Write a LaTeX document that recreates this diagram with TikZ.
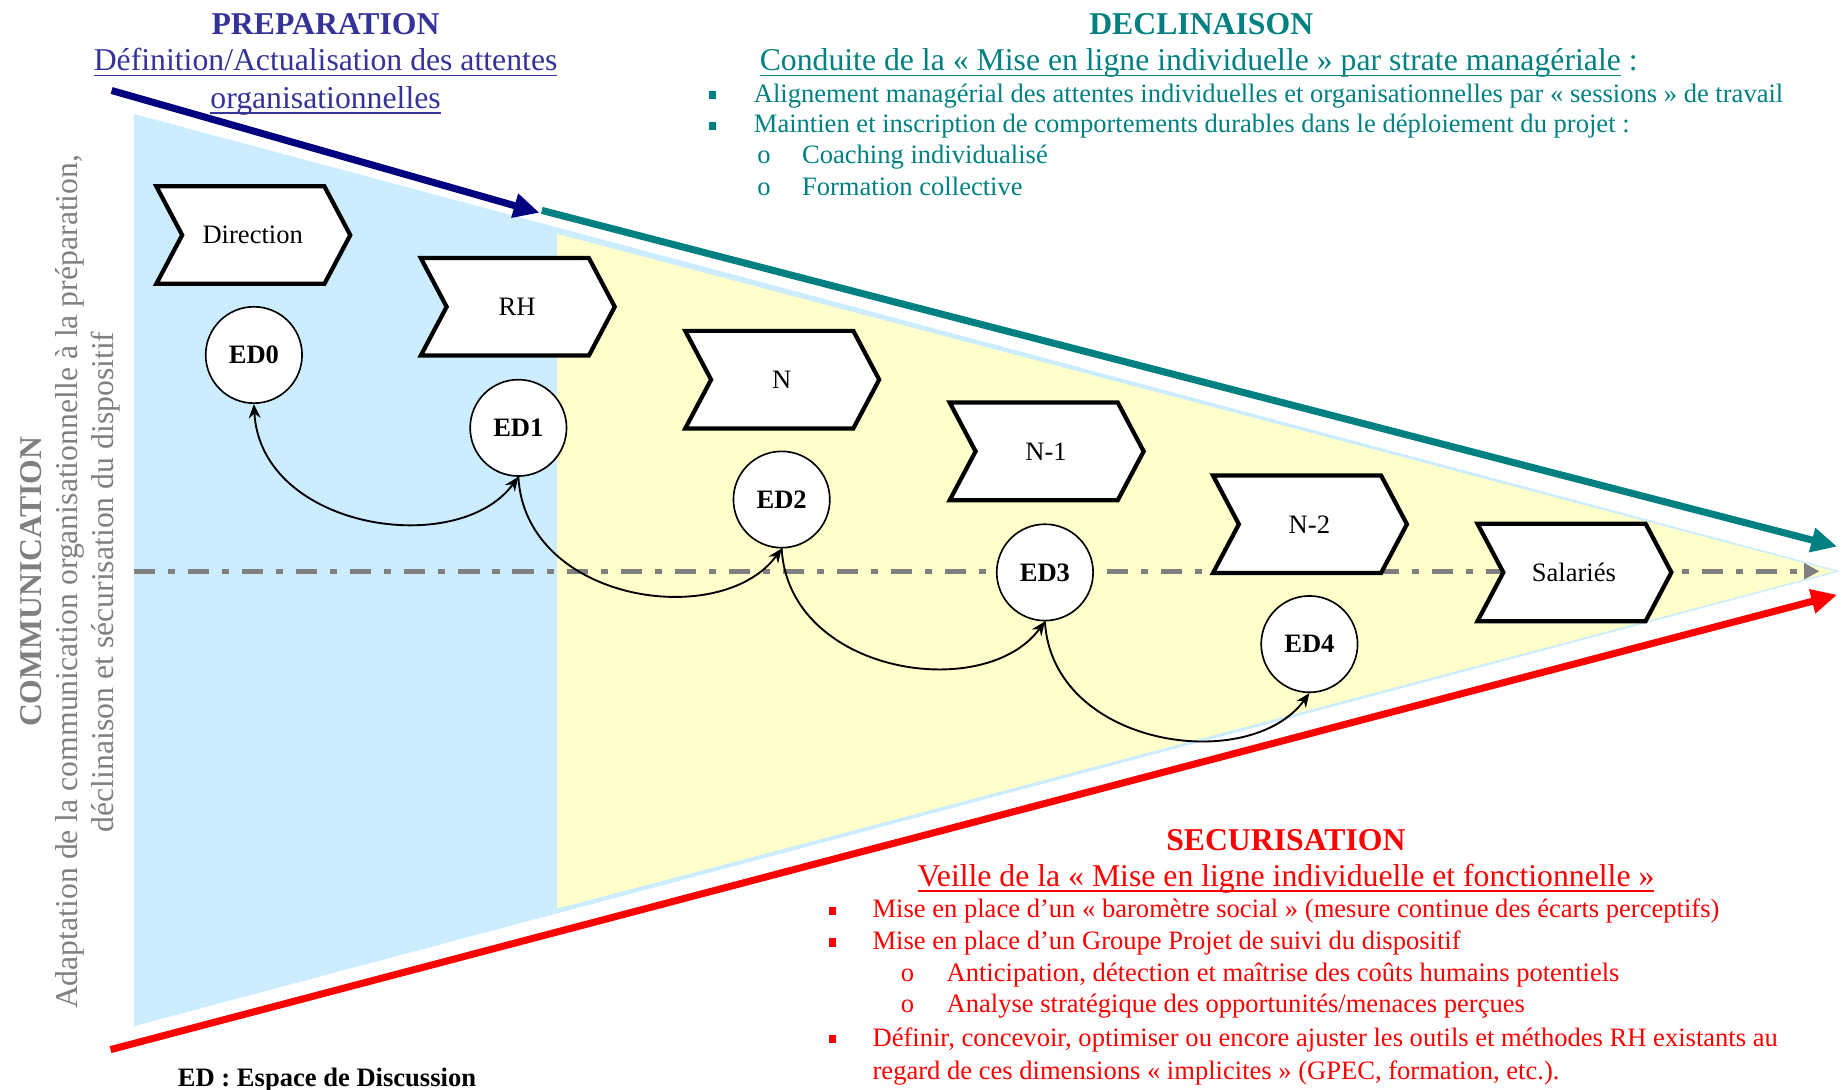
\documentclass[tikz,border=0pt]{standalone}
\usepackage{fontspec}
\setmainfont{Liberation Serif}
\usetikzlibrary{arrows.meta}
\definecolor{prepblue}{RGB}{51,51,153}
\definecolor{navyarrow}{RGB}{0,0,128}
\definecolor{tealc}{RGB}{0,128,128}
\definecolor{redc}{RGB}{255,0,0}
\definecolor{lightblue}{RGB}{204,236,255}
\definecolor{lightyellow}{RGB}{255,255,204}
\definecolor{grayc}{RGB}{128,128,128}
\newcommand{\sqbul}{\raisebox{1.3pt}{\rule{3pt}{3.5pt}}}
\newcommand{\headsize}{\fontsize{13.5}{15.3}\selectfont}
\newcommand{\bodysize}{\fontsize{11.3}{13.5}\selectfont}
\newcommand{\uln}[1]{\setbox0\hbox{#1}\rlap{\rule[-2.4pt]{\wd0}{0.6pt}}\box0\relax}
\newcommand{\chevron}[3]{%
  \draw[chevline, shift={(#2)}] (-82,-41.5) -- (61,-41.5) -- (83,0) -- (61,41.5) -- (-82,41.5) -- (-60,0) -- cycle;
  \node[chevtext] (#1) at (#2) {#3};}
\begin{document}
\begin{tikzpicture}[x=0.5pt,y=-0.5pt,
  chevline/.style={draw=black, fill=white, line width=1.8pt, line join=miter},
  chevtext/.style={font=\bodysize, inner sep=0pt},
  edcircle/.style={circle, draw=black, fill=white, line width=0.7pt, minimum size=41pt, inner sep=0pt, font=\bodysize\bfseries},
  curvearrow/.style={draw=black, line width=0.8pt, -{Stealth[length=6pt,width=5pt]}},
  bigarrow/.style={line width=3pt, -{Triangle[length=11pt,width=10pt]}},
  txt/.style={inner sep=0pt, anchor=base west, font=\bodysize},
  ctxt/.style={inner sep=0pt, anchor=base, font=\headsize},
]
\useasboundingbox (0,0) rectangle (1568,927);

% background areas
\fill[lightblue] (114,97) -- (1566,486) -- (114,873) -- cycle;
\fill[lightyellow] (474,199) -- (1561,486) -- (474,773) -- cycle;

% free ends of the long arrows
\coordinate (navyS) at (95,77);
\coordinate (navyE) at (459,181);
\coordinate (tealS) at (461,179);
\coordinate (tealE) at (1563,465);
\coordinate (redS) at (94,893);
\coordinate (redE) at (1563,506);
\coordinate (grayS) at (114,486);
\coordinate (grayE) at (1548,486);

% axis line
\draw[grayc, line width=2pt, dash pattern=on 9pt off 5.5pt on 3pt off 5.5pt, -{Triangle[length=6.5pt,width=6.5pt]}] (grayS) -- (grayE);

% big arrows
\draw[bigarrow, navyarrow] (navyS) -- (navyE);
\draw[bigarrow, tealc] (tealS) -- (tealE);
\draw[bigarrow, redc] (redS) -- (redE);

% chevrons
\chevron{dir}{215,200}{Direction}
\chevron{rh}{440,261}{RH}
\chevron{n}{665,323}{N}
\chevron{n1}{890,384}{N-1}
\chevron{n2}{1114,446}{N-2}
\chevron{sal}{1339,487}{Salariés}

% discussion spaces
\node[edcircle] (ED0) at (216,302) {ED0};
\node[edcircle] (ED1) at (441,364) {ED1};
\node[edcircle] (ED2) at (665,425) {ED2};
\node[edcircle] (ED3) at (889,487) {ED3};
\node[edcircle] (ED4) at (1114,548) {ED4};

\draw[curvearrow, {Stealth[length=6pt,width=5pt]}-{Stealth[length=6pt,width=5pt]}] (ED0.south) .. controls +(6,107) and +(-51,70) .. (ED1.south);
\draw[curvearrow] (ED1.south) .. controls +(6,107) and +(-51,70) .. (ED2.south);
\draw[curvearrow] (ED2.south) .. controls +(6,107) and +(-51,70) .. (ED3.south);
\draw[curvearrow] (ED3.south) .. controls +(6,107) and +(-51,70) .. (ED4.south);

% left rotated text
\node[rotate=90, align=center, text=grayc, font=\headsize, inner sep=0pt] (comm) at (60,495)
  {\textbf{COMMUNICATION}\\Adaptation de la communication organisationnelle à la préparation,\\déclinaison et sécurisation du dispositif};

% PREPARATION
\node[ctxt, text=prepblue] (prep1) at (277,29) {\textbf{PREPARATION}};
\node[ctxt, text=prepblue] (prep2) at (277,60) {\uln{Définition/Actualisation des attentes}};
\node[ctxt, text=prepblue] (prep3) at (277,92) {\uln{organisationnelles}};

% DECLINAISON
\node[ctxt, text=tealc] (decl1) at (1022,29) {\textbf{DECLINAISON}};
\node[txt, font=\headsize, text=tealc] (decl2) at (646,60) {\uln{Conduite de la «~Mise en ligne individuelle~» par strate managériale} :};
\node[txt, text=tealc] (decl3) at (603,87) {\makebox[19pt][l]{\sqbul}Alignement managérial des attentes individuelles et organisationnelles par «~sessions~» de travail};
\node[txt, text=tealc] (decl4) at (603,113) {\makebox[19pt][l]{\sqbul}Maintien et inscription de comportements durables dans le déploiement du projet :};
\node[txt, text=tealc] (decl5) at (644,139) {\makebox[19pt][l]{o}Coaching individualisé};
\node[txt, text=tealc] (decl6) at (644,166) {\makebox[19pt][l]{o}Formation collective};

% SECURISATION
\node[ctxt, text=redc] (sec1) at (1094,724) {\textbf{SECURISATION}};
\node[ctxt, text=redc] (sec2) at (1094,754) {\uln{Veille de la «~Mise en ligne individuelle et fonctionnelle~»}};
\node[txt, text=redc] (sec3) at (705,781) {\makebox[18.5pt][l]{\sqbul}Mise en place d’un «~baromètre social~» (mesure continue des écarts perceptifs)};
\node[txt, text=redc] (sec4) at (705,808) {\makebox[18.5pt][l]{\sqbul}Mise en place d’un Groupe Projet de suivi du dispositif};
\node[txt, text=redc] (sec5) at (766,835) {\makebox[19.5pt][l]{o}Anticipation, détection et maîtrise des coûts humains potentiels};
\node[txt, text=redc] (sec6) at (766,861) {\makebox[19.5pt][l]{o}Analyse stratégique des opportunités/menaces perçues};
\node[txt, text=redc] (sec7) at (705,890) {\makebox[18.5pt][l]{\sqbul}Définir, concevoir, optimiser ou encore ajuster les outils et méthodes RH existants au};
\node[txt, text=redc] (sec8) at (742,918) {regard de ces dimensions «~implicites~» (GPEC, formation, etc.).};

% legend
\node[txt, font=\bodysize\bfseries] (legend) at (151,924) {ED : Espace de Discussion};
\end{tikzpicture}
\end{document}
